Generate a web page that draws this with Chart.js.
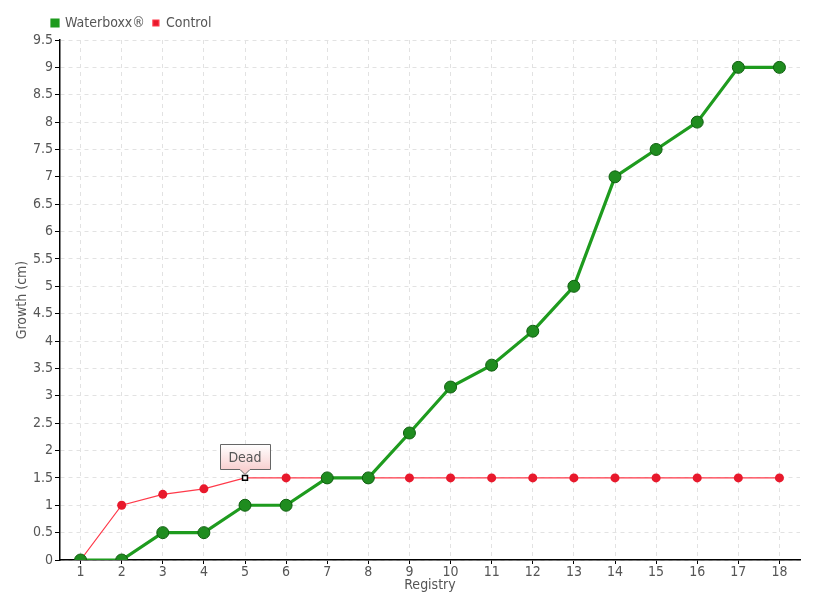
<!DOCTYPE html>
<html>
<head>
<meta charset="utf-8">
<script src="https://cdn.jsdelivr.net/npm/chart.js@4.4.1/dist/chart.umd.min.js"></script>
<style>
  body { margin: 0; background: #fff; }
  #wrap { width: 820px; height: 600px; }
</style>
</head>
<body>
<div id="wrap"><canvas id="chart" width="820" height="600"></canvas></div>
<script>
const registry = ['1','2','3','4','5','6','7','8','9','10','11','12','13','14','15','16','17','18'];
const waterboxx = [0, 0, 0.5, 0.5, 1, 1, 1.5, 1.5, 2.32, 3.16, 3.56, 4.18, 5, 7, 7.5, 8, 9, 9];
const control = [0, 1, 1.2, 1.3, 1.5, 1.5, 1.5, 1.5, 1.5, 1.5, 1.5, 1.5, 1.5, 1.5, 1.5, 1.5, 1.5, 1.5];
const deadIndex = 4;
const deadLabel = 'Dead';

const font = "'DejaVu Sans Condensed', sans-serif";
const txt = '#555';

// callout box for the "Dead" point
const deadNote = {
  id: 'deadNote',
  afterDatasetsDraw(chart) {
    const pt = chart.getDatasetMeta(1).data[deadIndex];
    if (!pt) return;
    const ctx = chart.ctx;
    const w = 50, h = 25;
    const x = Math.round(pt.x - w / 2) + 0.5, y = Math.round(pt.y - 34) + 0.5;
    ctx.save();
    const g = ctx.createLinearGradient(0, y, 0, y + h);
    g.addColorStop(0, '#ffffff');
    g.addColorStop(1, '#f8d0d0');
    ctx.beginPath();
    ctx.moveTo(x, y);
    ctx.lineTo(x + w, y);
    ctx.lineTo(x + w, y + h);
    ctx.lineTo(pt.x + 5, y + h);
    ctx.lineTo(pt.x, y + h + 5);
    ctx.lineTo(pt.x - 5, y + h);
    ctx.lineTo(x, y + h);
    ctx.closePath();
    ctx.fillStyle = g;
    ctx.fill();
    ctx.strokeStyle = '#666';
    ctx.lineWidth = 1;
    ctx.stroke();
    ctx.fillStyle = txt;
    ctx.font = '14px ' + font;
    ctx.textAlign = 'center';
    ctx.textBaseline = 'middle';
    ctx.fillText(deadLabel, pt.x, y + h / 2 + 1);
    ctx.restore();
  }
};

// push the legend right, as in the original
const legendShift = {
  id: 'legendShift',
  afterLayout(chart) {
    if (chart.legend) {
      chart.legend.left += 30;
      chart.legend.right += 30;
    }
  }
};

new Chart(document.getElementById('chart').getContext('2d'), {
  type: 'line',
  data: {
    labels: registry,
    datasets: [
      {
        label: 'Waterboxx®',
        data: waterboxx,
        borderColor: '#1e9b1e',
        backgroundColor: '#1e9b1e',
        borderWidth: 3.2,
        pointRadius: 6,
        pointBackgroundColor: '#1f8c1f',
        pointBorderColor: '#0f5f0f',
        pointBorderWidth: 1,
        tension: 0
      },
      {
        label: 'Control',
        data: control,
        borderColor: '#ff3a4a',
        backgroundColor: '#e8192c',
        borderWidth: 1.2,
        pointRadius: control.map((v, i) => i === deadIndex ? 3.5 : 4.5),
        pointStyle: control.map((v, i) => i === deadIndex ? 'rect' : 'circle'),
        pointBackgroundColor: control.map((v, i) => i === deadIndex ? '#fff' : '#e8192c'),
        pointBorderColor: control.map((v, i) => i === deadIndex ? '#000' : '#e8192c'),
        pointBorderWidth: control.map((v, i) => i === deadIndex ? 1.5 : 0),
        tension: 0
      }
    ]
  },
  options: {
    responsive: false,
    animation: false,
    layout: { padding: { top: 8, right: 20, left: 14, bottom: 6 } },
    plugins: {
      legend: {
        position: 'top',
        align: 'start',
        labels: {
          boxWidth: 6,
          boxHeight: 6,
          padding: 8,
          color: txt,
          font: { family: font, size: 14 }
        }
      },
      tooltip: { enabled: false }
    },
    scales: {
      x: {
        offset: true,
        grid: {
          color: '#e2e2e2',
          tickColor: '#000',
          tickLength: 4,
          tickBorderDash: [],
          offset: false
        },
        border: { color: '#000', width: 1.5, dash: [4, 4] },
        ticks: { color: txt, font: { family: font, size: 14 }, padding: 0, maxRotation: 0, autoSkip: false },
        title: { display: true, text: 'Registry', color: txt, font: { family: font, size: 14 }, padding: 0 },
        afterFit(s) { s.height = 34; }
      },
      y: {
        min: 0,
        max: 9.5,
        grid: {
          color: '#e2e2e2',
          tickColor: '#000',
          tickLength: 5,
          tickBorderDash: []
        },
        border: { color: '#000', width: 1.5, dash: [4, 4] },
        ticks: {
          stepSize: 0.5,
          color: txt,
          font: { family: font, size: 14 },
          padding: 2,
          callback: (v) => String(+v.toFixed(2))
        },
        title: { display: true, text: 'Growth (cm)', color: txt, font: { family: font, size: 14 }, padding: 0 },
        afterFit(s) { s.width = 46; }
      }
    }
  },
  plugins: [deadNote, legendShift]
});
</script>
</body>
</html>
